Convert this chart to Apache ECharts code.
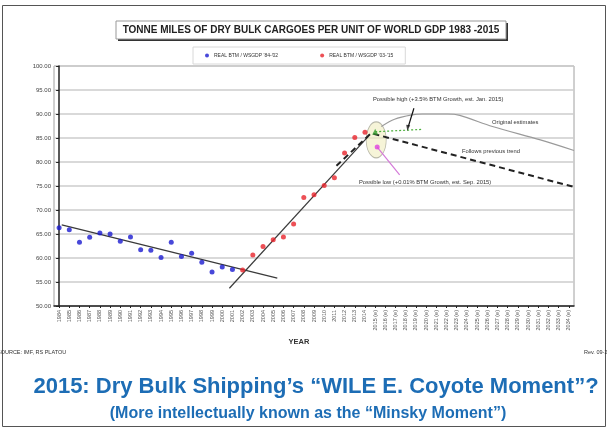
<!DOCTYPE html>
<html><head><meta charset="utf-8">
<script src="https://cdn.jsdelivr.net/npm/echarts@6/dist/echarts.min.js"></script>
<style>html,body{margin:0;padding:0;background:#fff}#c{width:607px;height:428px}</style>
</head><body><div id="c"></div><script>
// Year labels on the category axis (2015 onward are estimates)
const years = ['1984','1985','1986','1987','1988','1989','1990','1991','1992','1993','1994','1995','1996','1997','1998','1999','2000','2001','2002','2003','2004','2005','2006','2007','2008','2009','2010','2011','2012','2013','2014',
  '2015 (e)','2016 (e)','2017 (e)','2018 (e)','2019 (e)','2020 (e)','2021 (e)','2022 (e)','2023 (e)','2024 (e)','2025 (e)','2026 (e)','2027 (e)','2028 (e)','2029 (e)','2030 (e)','2031 (e)','2032 (e)','2033 (e)','2034 (e)'];
// Real BTM / WSGDP, first period
const blueYears = ['1984','1985','1986','1987','1988','1989','1990','1991','1992','1993','1994','1995','1996','1997','1998','1999','2000','2001'];
const blueVals = [66.3, 65.9, 63.3, 64.3, 65.2, 65.0, 63.5, 64.4, 61.7, 61.6, 60.1, 63.3, 60.3, 61.0, 59.1, 57.1, 58.1, 57.6];
// Real BTM / WSGDP, second period
const redYears = ['2002','2003','2004','2005','2006','2007','2008','2009','2010','2011','2012','2013','2014'];
const redVals = [57.5, 60.6, 62.4, 63.8, 64.4, 67.1, 72.6, 73.2, 75.1, 76.7, 81.9, 85.1, 86.2];
// 2015 estimates
const highEst = 86.3;   // +3.5% BTM growth, Jan. 2015
const lowEst = 83.1;    // +0.01% BTM growth, Sep. 2015
// Trend lines as [category position, value]
const trendEarly = [[0.26, 66.9], [21.4, 55.8]];
const trendLate = [[16.7, 53.7], [30.3, 85.3]];
const trendContinued = [[27.2, 79.2], [30.6, 86.0], [50.5, 74.8]];
const originalEst = [[31.6, 87.4], [32.9, 88.9], [34.6, 89.8], [35.6, 90.0], [38.1, 90.0], [39.3, 89.7], [42.5, 87.4], [47.2, 84.6], [50.5, 82.4]];
const highPath = [[31.0, 86.3], [35.7, 86.8]];
const lowPath = [[31.2, 83.1], [33.4, 77.3]];
const highArrow = [[34.8, 91.2], [34.25, 87.4]];
const arrowHead = [34.2, 87.1];
const ellipseCenter = [31.1, 84.6];

const idx = y => years.indexOf(y);
const FONT = 'Liberation Sans, Arial, sans-serif';

const chart = echarts.init(document.getElementById('c'), null, {renderer: 'canvas'});
const lineBase = {type: 'line', xAxisIndex: 1, symbol: 'none', silent: true, animation: false};

chart.setOption({
  animation: false,
  backgroundColor: '#fff',
  grid: {left: 54, right: 33, top: 66, bottom: 122, show: true, borderColor: '#a0a0a0', borderWidth: 1, backgroundColor: '#fff'},
  legend: {
    left: 193, top: 47, width: 212, height: 12,
    data: ["REAL BTM / WSGDP '84-'02", "REAL BTM / WSGDP '03-'15"],
    icon: 'circle', itemWidth: 4, itemHeight: 4, itemGap: 42,
    borderColor: '#d8d8d8', borderWidth: 1, padding: [6, 12, 6, 12],
    textStyle: {fontSize: 5, color: '#333', fontFamily: FONT}
  },
  xAxis: [{
    type: 'category', data: years, boundaryGap: true,
    axisLine: {lineStyle: {color: '#222', width: 1.5}},
    axisTick: {show: true, alignWithLabel: true, length: 2, lineStyle: {color: '#222'}},
    axisLabel: {interval: 0, rotate: 90, fontSize: 5.5, color: '#555', fontFamily: FONT, margin: 4},
    splitLine: {show: false}
  }, {
    type: 'value', min: -0.5, max: 50.5, show: false
  }],
  yAxis: {
    type: 'value', min: 50, max: 100, interval: 5,
    axisLine: {show: true, lineStyle: {color: '#222', width: 1.5}},
    axisTick: {show: true, length: 3, lineStyle: {color: '#222'}},
    axisLabel: {fontSize: 6, color: '#444', fontFamily: FONT, margin: 3, formatter: v => v.toFixed(2)},
    splitLine: {lineStyle: {color: '#cccccc', width: 1.5}}
  },
  series: [
    {type: 'scatter', xAxisIndex: 1, data: [ellipseCenter], symbol: 'circle', symbolSize: [20, 36], z: 1,
      itemStyle: {color: 'rgba(240,236,190,0.75)', borderColor: '#a8a898', borderWidth: 1}, silent: true},
    Object.assign({}, lineBase, {data: trendEarly, lineStyle: {color: '#3a3a3a', width: 1.2}, z: 2}),
    Object.assign({}, lineBase, {data: trendLate, lineStyle: {color: '#3a3a3a', width: 1.2}, z: 2}),
    Object.assign({}, lineBase, {data: trendContinued, lineStyle: {color: '#222', width: 2, type: [6, 4]}, z: 3}),
    Object.assign({}, lineBase, {data: originalEst, smooth: 0.3, lineStyle: {color: '#9a9a9a', width: 1.2}, z: 2}),
    Object.assign({}, lineBase, {data: highPath, lineStyle: {color: '#4caf3c', width: 1.2, type: [2, 2]}, z: 3}),
    Object.assign({}, lineBase, {data: lowPath, lineStyle: {color: '#d47ad8', width: 1.2}, z: 3}),
    Object.assign({}, lineBase, {data: highArrow, lineStyle: {color: '#111', width: 1.2}, z: 4}),
    {type: 'scatter', xAxisIndex: 1, symbol: 'triangle', symbolSize: [4, 6], symbolRotate: 172, z: 4,
      itemStyle: {color: '#111'}, data: [arrowHead], silent: true},
    {name: "REAL BTM / WSGDP '84-'02", type: 'scatter', xAxisIndex: 1, symbolSize: 5, z: 5,
      itemStyle: {color: '#1a1ad0'}, data: blueYears.map((y, i) => [idx(y), blueVals[i]])},
    {name: "REAL BTM / WSGDP '03-'15", type: 'scatter', xAxisIndex: 1, symbolSize: 5, z: 5,
      itemStyle: {color: '#e8242c'}, data: redYears.map((y, i) => [idx(y), redVals[i]])},
    {type: 'scatter', xAxisIndex: 1, symbol: 'triangle', symbolSize: 6, z: 6,
      itemStyle: {color: '#3aa032'}, data: [[idx('2015 (e)'), highEst]]},
    {type: 'scatter', xAxisIndex: 1, symbolSize: 5, z: 6,
      itemStyle: {color: '#e040e0'}, data: [[idx('2015 (e)') + 0.2, lowEst]]}
  ],
  graphic: [
    {type: 'rect', shape: {x: 2.5, y: 5.5, width: 603, height: 421}, style: {fill: 'none', stroke: '#555', lineWidth: 1}, z: 0},
    {type: 'rect', shape: {x: 118, y: 23, width: 390, height: 18}, style: {fill: '#333'}, z: 10},
    {type: 'rect', shape: {x: 116, y: 21, width: 390, height: 18}, style: {fill: '#fff', stroke: '#999', lineWidth: 1}, z: 11},
    {type: 'text', x: 311, y: 30, z: 12, style: {text: 'TONNE MILES OF DRY BULK CARGOES PER UNIT OF WORLD GDP 1983 -2015', align: 'center', verticalAlign: 'middle', font: 'bold 10px ' + FONT, fill: '#222'}},
    {type: 'text', x: 373, y: 99, z: 12, style: {text: 'Possible high (+3.5% BTM Growth, est. Jan. 2015)', verticalAlign: 'middle', font: '5.8px ' + FONT, fill: '#333'}},
    {type: 'text', x: 492, y: 122, z: 12, style: {text: 'Original estimates', verticalAlign: 'middle', font: '5.8px ' + FONT, fill: '#333'}},
    {type: 'text', x: 462, y: 151, z: 12, style: {text: 'Follows previous trend', verticalAlign: 'middle', font: '5.8px ' + FONT, fill: '#333'}},
    {type: 'text', x: 359, y: 182, z: 12, style: {text: 'Possible low (+0.01% BTM Growth, est. Sep. 2015)', verticalAlign: 'middle', font: '5.8px ' + FONT, fill: '#333'}},
    {type: 'text', x: 299, y: 342, z: 12, style: {text: 'YEAR', align: 'center', verticalAlign: 'middle', font: 'bold 7.5px ' + FONT, fill: '#333'}},
    {type: 'text', x: -3, y: 352, z: 12, style: {text: 'SOURCE: IMF, RS PLATOU', verticalAlign: 'middle', font: '5.5px ' + FONT, fill: '#333'}},
    {type: 'text', x: 584, y: 352, z: 12, style: {text: 'Rev. 09-2015', verticalAlign: 'middle', font: '5.5px ' + FONT, fill: '#333'}},
    {type: 'text', x: 316, y: 387, z: 12, style: {text: '2015: Dry Bulk Shipping\u2019s \u201cWILE E. Coyote Moment\u201d?', align: 'center', verticalAlign: 'middle', font: 'bold 22px ' + FONT, fill: '#1d6db5'}},
    {type: 'text', x: 308, y: 414, z: 12, style: {text: '(More intellectually known as the \u201cMinsky Moment\u201d)', align: 'center', verticalAlign: 'middle', font: 'bold 16px ' + FONT, fill: '#1d6db5'}}
  ]
});
</script></body></html>
